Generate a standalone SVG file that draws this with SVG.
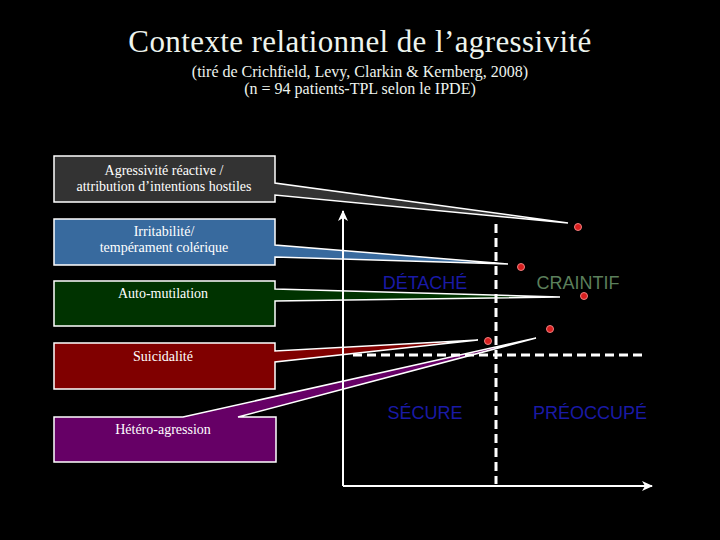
<svg xmlns="http://www.w3.org/2000/svg" width="720" height="540" viewBox="0 0 720 540">
<defs>
<style>
.title{font-family:"Liberation Serif","Times New Roman",serif;fill:#eef4ee;text-anchor:middle}
.box{stroke:#ffffff;stroke-width:1.5;stroke-linejoin:miter}
.bt{font-family:"Liberation Serif","Times New Roman",serif;font-size:14px;fill:#ffffff;text-anchor:middle}
.axis{stroke:#ffffff;stroke-width:2;fill:none}
.dash{stroke:#ffffff;stroke-width:3;fill:none;stroke-dasharray:9 5}
.dot{fill:#d81e1e;stroke:#f08080;stroke-width:1}
.q{font-family:"Liberation Sans",Arial,sans-serif;font-size:18px;text-anchor:middle}
</style>
<marker id="ah" viewBox="0 0 12 12" refX="10" refY="6" markerWidth="12" markerHeight="12" markerUnits="userSpaceOnUse" orient="auto">
<path d="M0,1 L11,6 L0,11 L3,6 Z" fill="#ffffff"/>
</marker>
</defs>
<rect width="720" height="540" fill="#000000"/>
<text class="title" x="360" y="52" font-size="31" letter-spacing="0.4">Contexte relationnel de l’agressivité</text>
<text class="title" x="360" y="77" font-size="16">(tiré de Crichfield, Levy, Clarkin &amp; Kernberg, 2008)</text>
<text class="title" x="360" y="94" font-size="16">(n = 94 patients-TPL selon le IPDE)</text>

<g id="node-agressivite">
<path class="box" fill="#333333" d="M54,156 H275 V183 L568,223 L275,195 V202 H54 Z"/>
<text class="bt" x="164" y="175">Agressivité réactive /</text>
<text class="bt" x="164" y="191">attribution d’intentions hostiles</text>
</g>
<g id="node-irritabilite">
<path class="box" fill="#386a9e" d="M54,219 H275 V245 L508,264 L275,257 V265 H54 Z"/>
<text class="bt" x="164" y="236">Irritabilité/</text>
<text class="bt" x="164" y="252">tempérament colérique</text>
</g>
<g id="node-automutilation">
<path class="box" fill="#003300" d="M54,281 H275 V289 L560,297 L275,301 V326 H54 Z"/>
<text class="bt" x="163" y="298">Auto-mutilation</text>
</g>
<g id="node-suicidalite">
<path class="box" fill="#800000" d="M54,343 H275 V351 L478,340 L275,362 V389 H54 Z"/>
<text class="bt" x="163" y="361">Suicidalité</text>
</g>
<g id="node-hetero">
<path class="box" fill="#660066" d="M54,417 H183 L536,338 L238,417 H276 V462 H54 Z"/>
<text class="bt" x="163" y="434">Hétéro-agression</text>
</g>

<g id="connectors">
<line class="axis" x1="343" y1="486" x2="343" y2="211" marker-end="url(#ah)"/>
<line class="axis" x1="343" y1="486" x2="652" y2="486" marker-end="url(#ah)"/>
<line class="dash" x1="496" y1="224" x2="496" y2="484"/>
<line class="dash" x1="353" y1="355" x2="645" y2="355"/>
</g>

<g id="dots">
<circle class="dot" cx="578" cy="227" r="3.5"/>
<circle class="dot" cx="521" cy="267" r="3.5"/>
<circle class="dot" cx="584" cy="296" r="3.5"/>
<circle class="dot" cx="550" cy="329" r="3.5"/>
<circle class="dot" cx="488" cy="341" r="3.5"/>
</g>

<g id="labels">
<text class="q" x="425" y="289" fill="#1a1aa6">DÉTACHÉ</text>
<text class="q" x="578" y="289" fill="#5b7f5b">CRAINTIF</text>
<text class="q" x="425" y="419" fill="#1a1aa6">SÉCURE</text>
<text class="q" x="590" y="419" fill="#1a1aa6">PRÉOCCUPÉ</text>
</g>
</svg>
